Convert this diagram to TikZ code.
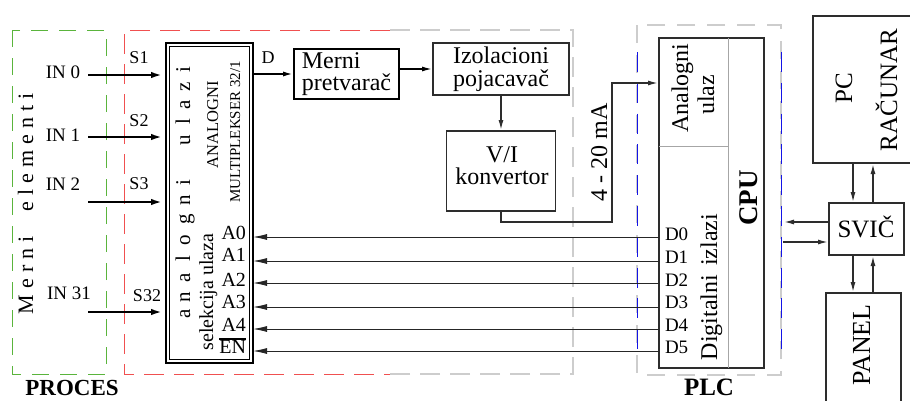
\documentclass[tikz,border=0pt]{standalone}
\usepackage{fontspec}
\setmainfont{Liberation Serif}
\usetikzlibrary{arrows.meta,calc}

\definecolor{procgreen}{RGB}{90,180,60}
\definecolor{procred}{RGB}{240,80,80}
\definecolor{framegray}{RGB}{205,205,205}
\definecolor{plcblue}{RGB}{20,20,230}
\definecolor{edge}{RGB}{45,45,45}

\newcommand{\fsz}[1]{\fontsize{#1}{#1}\selectfont}

\begin{document}
\begin{tikzpicture}[x=1pt,y=-1pt,
  box/.style={draw=edge, rectangle, inner sep=0pt, outer sep=0pt, align=center},
  lbl/.style={inner sep=0pt, outer sep=0pt},
  vlbl/.style={inner sep=0pt, outer sep=0pt, rotate=90, anchor=base},
  sig/.style={line width=2.8pt, -{Latex[length=15pt,width=6pt]}},
  ctl/.style={line width=0.9pt, black!85, -{Latex[length=14pt,width=6pt]}},
  flow/.style={line width=1.8pt, edge, -{Latex[length=11pt,width=5pt]}},
]
\clip (0,0) rectangle (910,400);

% ---- dashed frames ----
\draw[procgreen, line width=1pt, dash pattern=on 17pt off 11pt] (12,30) rectangle (106,374);
\draw[procred, line width=1pt, dash pattern=on 20pt off 10pt] (390,30) -- (124,30) -- (124,374) -- (390,374);
\draw[framegray, line width=1.6pt, dash pattern=on 20pt off 10pt] (390,30) -- (573,30) -- (573,374) -- (390,374);
\draw[framegray, line width=1.6pt, dash pattern=on 18pt off 12pt] (637,25) rectangle (781,375);
\draw[plcblue, line width=1pt, dash pattern=on 20pt off 10.8pt] (637,52) -- (637,350);
\draw[plcblue, line width=1pt, dash pattern=on 20pt off 10.8pt] (781,52) -- (781,350);

% ---- process side ----
\node[vlbl, font=\fsz{22}] (merniel) at (33,204)
  {M\hspace{6pt}e\hspace{6pt}r\hspace{6pt}n\hspace{6pt}i\hspace{25pt}e\hspace{6pt}l\hspace{6pt}e\hspace{6pt}m\hspace{6pt}e\hspace{6pt}n\hspace{6pt}t\hspace{6pt}i};

% ---- multiplexer ----
\node[box, draw=black, line width=2.2pt, minimum width=87pt, minimum height=320pt] (mux) at (209.5,203) {};
\draw[line width=0.8pt] ($(mux.north west)+(3.5,3.5)$) rectangle ($(mux.south east)+(-3.5,-3.5)$);

\foreach \ch/\yy [count=\i] in {a/314,n/297,a/278,l/259,o/240,g/219,n/200,i/183,u/140,l/122,a/105,z/87,i/70}
  \node[vlbl, font=\fsz{21}] (al\i) at (190,\yy) {\ch};

\node[vlbl, font=\fsz{16.5}] (muxa) at (218,125) {ANALOGNI};
\node[vlbl, font=\fsz{15}] (muxb) at (240,132) {MULTIPLEKSER 32/1};
\node[vlbl, font=\fsz{20}] (selek) at (213,292) {selekcija ulaza};

% ---- inputs ----
\foreach \yy/\nm/\txt/\lx/\ly/\sl/\sx/\sy in
  {75/in0/IN 0/63/72/S1/139/58,
   137/in1/IN 1/63/135/S2/139/121,
   202/in2/IN 2/63/184/S3/139/184,
   312/in31/IN 31/69/293/S32/147/296} {
  \coordinate (\nm) at (88,\yy);
  \draw[sig] (\nm) -- (mux.west |- \nm);
  \node[lbl, font=\fsz{19}] (t\nm) at (\lx,\ly) {\txt};
  \node[lbl, font=\fsz{18}] (s\nm) at (\sx,\sy) {\sl};
}

% ---- analog chain ----
\node[box, draw=black, line width=2.6pt, minimum width=105pt, minimum height=50pt,
      align=left, font=\fontsize{24}{22}\selectfont] (merni) at (346.5,74) {Merni\\pretvarač};
\node[box, line width=1.8pt, minimum width=136pt, minimum height=52pt,
      font=\fontsize{24}{23}\selectfont] (izol) at (501,69) {Izolacioni\\pojacavač};
\node[box, line width=1.8pt, minimum width=109pt, minimum height=80pt] (vi) at (501,171) {};
\node[lbl, align=center, font=\fontsize{24}{22}\selectfont] (vitxt) at (502,166) {V/I\\konvertor};

\node[lbl, font=\fsz{18}] (dlbl) at (268,58) {D};
\draw[flow, black, line width=2pt] (mux.east |- merni.west) -- (merni.west);
\draw[flow, black] (merni.east |- izol.west) -- (izol.west);
\draw[flow] (izol.south) -- (vi.north);

\coordinate (loopa) at (612,222);
\coordinate (loopb) at (612,83);
\draw[flow] (vi.south) |- (loopa) -- (loopb) -- (659,83);
\node[vlbl, font=\fsz{24}] (ma) at (607,152) {4 - 20 mA};

% ---- PLC / CPU ----
\node[box, line width=2.2pt, minimum width=105pt, minimum height=330pt] (cpu) at (711.5,203) {};
\coordinate (cdiv) at (728,0);
\coordinate (hdiv) at (0,146);
\draw[black!35, line width=1pt] (cpu.north -| cdiv) -- (cpu.south -| cdiv);
\draw[black!35, line width=1pt] (cpu.west |- hdiv) -- (cdiv |- hdiv);
\node[vlbl, font=\fsz{24}] (anl) at (688,88) {Analogni};
\node[vlbl, font=\fsz{24}] (ulz) at (714,95) {ulaz};
\node[vlbl, font=\fsz{24}] (digi) at (717,287) {Digitalni\hspace{9pt}izlazi};
\node[vlbl, font=\bfseries\fsz{27}] (cpul) at (757,198) {CPU};

% ---- control lines ----
\foreach \yy/\alab/\aly/\dly [count=\i] in
  {237/A0/233/234, 261/A1/255/257, 283/A2/280/280,
   307/A3/302/302, 329/A4/325/325, 351/EN/347/347} {
  \coordinate (c\i) at (0,\yy);
  \draw[ctl] (cpu.west |- c\i) -- (mux.east |- c\i);
  \node[lbl, anchor=east, font=\fsz{20}] (ta\i) at (246,\aly) {\alab};
  \pgfmathtruncatemacro{\dn}{\i-1}
  \node[lbl, anchor=west, font=\fsz{19}] (td\i) at (665,\dly) {D\dn};
}
\draw[line width=2.2pt] ([yshift=1.6pt]ta6.north west) -- ([yshift=1.6pt]ta6.north east);

% ---- PC, switch, panel ----
\node[box, line width=2.4pt, minimum width=102pt, minimum height=147pt] (pc) at (864,89.5) {};
\node[vlbl, font=\fsz{25}] (pct) at (852,88) {PC};
\node[vlbl, font=\fsz{25}] (rac) at (897,90) {RAČUNAR};
\node[box, line width=1.8pt, minimum width=75pt, minimum height=52pt] (svic) at (866.5,229) {};
\node[lbl, anchor=base, font=\fsz{25}] (svict) at (866,237) {SVIČ};
\node[box, line width=2.4pt, minimum width=75pt, minimum height=124pt] (panel) at (863.5,355) {};
\node[vlbl, font=\fsz{26}] (panelt) at (870,345) {PANEL};

\coordinate (xa) at (853,0);
\coordinate (xb) at (873,0);
\draw[flow] (pc.south -| xa) -- (svic.north -| xa);
\draw[flow] (svic.north -| xb) -- (pc.south -| xb);
\draw[flow] (svic.south -| xa) -- (panel.north -| xa);
\draw[flow] (panel.north -| xb) -- (svic.south -| xb);
\coordinate (lt1) at (783,222);
\coordinate (lt2) at (783,242);
\draw[flow] (svic.west |- lt1) -- (lt1);
\draw[flow] (lt2) -- (svic.west |- lt2);

% ---- captions ----
\node[lbl, anchor=base, font=\bfseries\fsz{23}] (proces) at (72,395) {PROCES};
\node[lbl, anchor=base, font=\bfseries\fsz{25}] (plc) at (709,395.5) {PLC};
\end{tikzpicture}
\end{document}
